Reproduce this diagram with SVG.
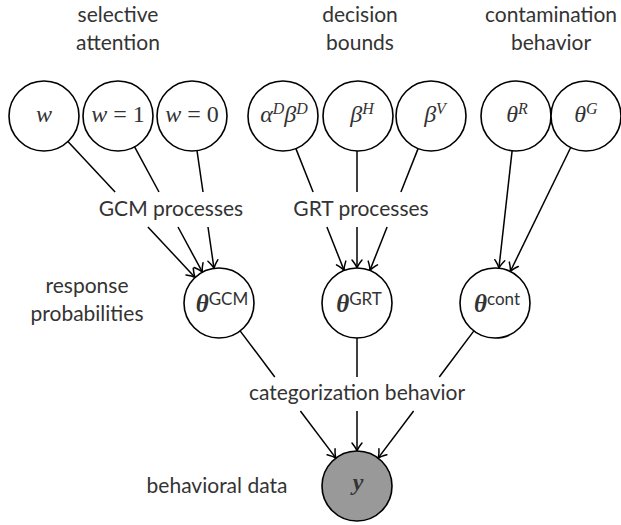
<svg xmlns="http://www.w3.org/2000/svg" width="621" height="525" viewBox="0 0 621 525">
<style>
  .node circle { fill: #fff; stroke: #000; stroke-width: 1.6; }
  .node.obs circle { fill: #999; }
  .lbl { font-family: Lato, "DejaVu Sans", sans-serif; font-size: 21px; fill: #333; text-anchor: middle; }
  .m { font-family: "Liberation Serif", "DejaVu Serif", serif; font-size: 24px; font-style: italic; fill: #333; text-anchor: middle; }
  .up { font-style: normal; }
  .sup { font-size: 16px; }
  .bt { font-weight: bold; font-size: 25px; }
  .ssup { font-family: Lato, "DejaVu Sans", sans-serif; font-style: normal; font-weight: normal; font-size: 17px; }
  .edges line, .edges path { stroke: #000; stroke-width: 1.5; fill: none; }
  .arr { marker-end: url(#ah); }
</style>
<defs>
  <marker id="ah" markerUnits="userSpaceOnUse" viewBox="-10 -10 20 20" markerWidth="20" markerHeight="20" refX="0" refY="0" orient="auto" overflow="visible">
    <path d="M-8,-5 Q-3,-1 0,0 Q-3,1 -8,5" fill="none" stroke="#000" stroke-width="1.5" stroke-linecap="round"/>
  </marker>
</defs>

<g id="labels">
  <text class="lbl" x="118" y="22">selective</text>
  <text class="lbl" x="118" y="50">attention</text>
  <text class="lbl" x="360" y="22">decision</text>
  <text class="lbl" x="360" y="50">bounds</text>
  <text class="lbl" x="551" y="22">contamination</text>
  <text class="lbl" x="551" y="50">behavior</text>
  <text class="lbl" x="87" y="293">response</text>
  <text class="lbl" x="87" y="321">probabilities</text>
  <text class="lbl" x="217" y="493">behavioral data</text>
  <text class="lbl" x="171" y="216">GCM processes</text>
  <text class="lbl" x="361" y="216">GRT processes</text>
  <text class="lbl" x="357" y="400">categorization behavior</text>
</g>

<g class="edges" id="connectors">
  <line x1="67.9" y1="141.6" x2="115.1" y2="192"/>
  <line class="arr" x1="147.9" y1="227" x2="195.1" y2="277.4"/>
  <line x1="134.6" y1="146.8" x2="159" y2="192"/>
  <line class="arr" x1="178" y1="227" x2="202.4" y2="272.2"/>
  <line x1="197" y1="150.6" x2="203" y2="192"/>
  <line class="arr" x1="208" y1="227" x2="214" y2="268.4"/>

  <line x1="295.9" y1="148.6" x2="313.1" y2="192"/>
  <line class="arr" x1="326.9" y1="227" x2="344.1" y2="270.4"/>
  <line x1="357" y1="151" x2="357" y2="192"/>
  <line class="arr" x1="357" y1="227" x2="357" y2="268"/>
  <line x1="418.1" y1="148.6" x2="400.9" y2="192"/>
  <line class="arr" x1="387.1" y1="227" x2="369.9" y2="270.4"/>

  <line class="arr" x1="512.1" y1="150.8" x2="498.9" y2="268.2"/>
  <line class="arr" x1="570.7" y1="147.5" x2="510.3" y2="271.5"/>

  <line x1="240.1" y1="330.9" x2="274.8" y2="377"/>
  <line class="arr" x1="300.4" y1="411" x2="335.9" y2="458.1"/>
  <line x1="357" y1="338" x2="357" y2="377"/>
  <line class="arr" x1="357" y1="411" x2="357" y2="451"/>
  <line x1="473.9" y1="330.9" x2="439.3" y2="377"/>
  <line class="arr" x1="413.6" y1="411" x2="378.1" y2="458.1"/>
</g>

<g id="n-w" class="node"><circle cx="44" cy="116" r="35"/><text class="m" x="44" y="122">w</text></g>
<g id="n-w1" class="node"><circle cx="118" cy="116" r="35"/><text class="m" x="118" y="122">w<tspan class="up"> = 1</tspan></text></g>
<g id="n-w0" class="node"><circle cx="192" cy="116" r="35"/><text class="m" x="192" y="122">w<tspan class="up"> = 0</tspan></text></g>
<g id="n-alphaD" class="node"><circle cx="283" cy="116" r="35"/><text class="m" x="284" y="122">α<tspan class="sup" dy="-8">D</tspan><tspan dy="8">β</tspan><tspan class="sup" dy="-8">D</tspan></text></g>
<g id="n-betaH" class="node"><circle cx="358" cy="116" r="35"/><text class="m" x="362" y="122">β<tspan class="sup" dy="-8">H</tspan></text></g>
<g id="n-betaV" class="node"><circle cx="431" cy="116" r="35"/><text class="m" x="435" y="122">β<tspan class="sup" dy="-8">V</tspan></text></g>
<g id="n-thetaR" class="node"><circle cx="516" cy="116" r="35"/><text class="m" x="517" y="122">θ<tspan class="sup" dy="-8">R</tspan></text></g>
<g id="n-thetaG" class="node"><circle cx="586" cy="116" r="35"/><text class="m" x="586" y="122">θ<tspan class="sup" dy="-8">G</tspan></text></g>

<g id="n-thetaGCM" class="node"><circle cx="219" cy="303" r="35"/><text class="m" x="222" y="312"><tspan class="bt">θ</tspan><tspan class="ssup" dy="-7">GCM</tspan></text></g>
<g id="n-thetaGRT" class="node"><circle cx="357" cy="303" r="35"/><text class="m" x="359" y="312"><tspan class="bt">θ</tspan><tspan class="ssup" dy="-7">GRT</tspan></text></g>
<g id="n-thetacont" class="node"><circle cx="495" cy="303" r="35"/><text class="m" x="497" y="312"><tspan class="bt">θ</tspan><tspan class="ssup" dy="-7">cont</tspan></text></g>

<g id="n-y" class="node obs"><circle cx="357" cy="486" r="35"/><text class="m" x="358" y="490" font-weight="bold">y</text></g>
</svg>
